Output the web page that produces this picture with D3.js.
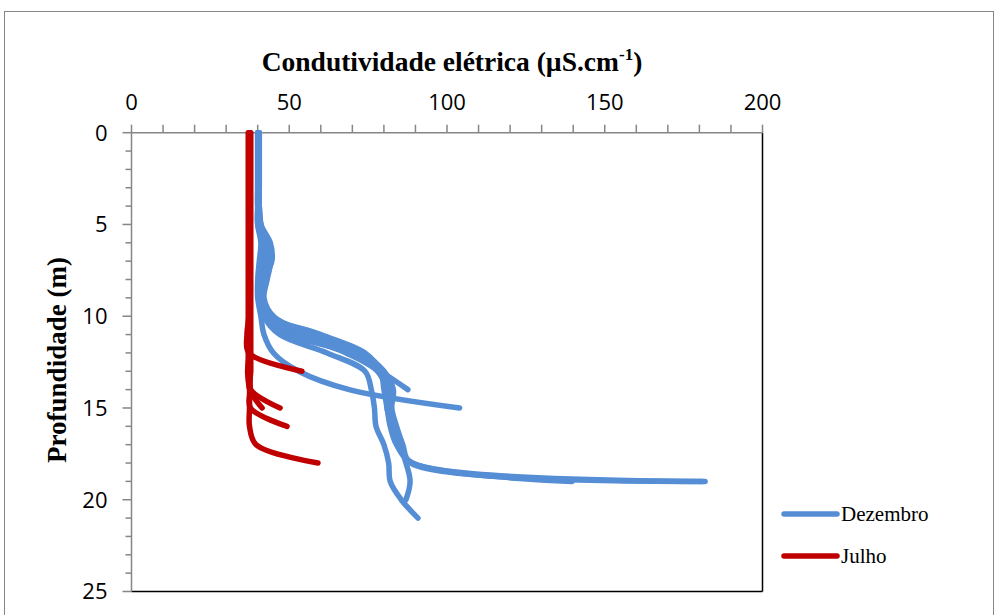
<!DOCTYPE html>
<html>
<head>
<meta charset="utf-8">
<script src="https://cdn.jsdelivr.net/npm/d3@7"></script>
<style>
  html, body { margin: 0; padding: 0; background: #fff; }
  svg { display: block; }
</style>
</head>
<body>
<svg id="chart" width="995" height="615"></svg>
<script>
// ---- Data (conductivity µS/cm at 1 m depth steps, depth starts at 0) ----
const xTicks = [0, 50, 100, 150, 200];
const yTicks = [0, 5, 10, 15, 20, 25];
const seriesNames = ["Dezembro", "Julho"];

// Dezembro profiles
const dez1 = [40, 40, 40, 40, 40, 40.5, 43, 44, 42, 41, 43, 50, 70, 79, 87.6];
const dez2 = [40, 40, 40, 40, 40, 40, 41, 40.5, 40, 40, 41, 42, 45, 53, 69, 104];
const dez3 = [40.5, 40.5, 40.5, 40.5, 40.5, 41, 44, 44.5, 42, 41.5, 44, 60, 74, 79, 80, 81, 82, 84, 89, 139.6];
const dez4 = [40, 40, 40, 40, 40, 40, 41.5, 42, 41, 40.5, 42.5, 52, 68, 78, 81, 82, 83, 84.5, 89, 181.8];
const dez5 = [40, 40, 40, 40, 40, 40.5, 42.5, 43.5, 41.5, 41, 42, 47, 62, 74, 76, 77, 77.5, 80, 81.5, 82, 85.5, 90.8];
const dez6 = [40.5, 40.5, 40.5, 40.5, 40.5, 41, 43.5, 43, 42, 41, 43, 53, 70, 80, 82, 81, 83, 85, 87, 88.3, 87];
const dez7 = [40.5, 40.5, 40.5, 40.5, 40.5, 41, 42, 44, 43, 42, 45, 57, 73, 80, 83, 82.5, 84, 86, 88.5, 181];

// Julho profiles
const jul1 = [37.2, 37.2, 37.2, 37.2, 37.2, 37.2, 37.2, 37.2, 37.2, 37.2, 37.2, 36.6, 37.2, 54];
const jul2 = [37.8, 37.8, 37.8, 37.8, 37.8, 37.8, 37.8, 37.8, 37.8, 37.8, 37.8, 37.8, 37.8, 37.8, 37.8, 47.1];
const jul3 = [37.0, 37.0, 37.0, 37.0, 37.0, 37.0, 37.0, 37.0, 37.0, 37.0, 37.0, 37.0, 37.0, 37.0, 37.5, 41.4];
const jul4 = [37.6, 37.6, 37.6, 37.6, 37.6, 37.6, 37.6, 37.6, 37.6, 37.6, 37.6, 37.6, 37.6, 37.6, 37.6, 37.7, 49.3];
const jul5 = [37.4, 37.4, 37.4, 37.4, 37.4, 37.4, 37.4, 37.4, 37.4, 37.4, 37.4, 37.4, 37.4, 36.8, 37.4, 37.4, 37.4, 39.5, 59.1];

const dezembro = [dez1, dez2, dez3, dez4, dez5, dez6, dez7];
const julho = [jul1, jul2, jul3, jul4, jul5];

// ---- Layout ----
const colors = { Dezembro: "#558ED5", Julho: "#C00000" };
const plot = { left: 131.5, top: 132.7, right: 762.5, bottom: 591.5 };

const svg = d3.select("#chart");

// outer chart frame
svg.append("rect")
  .attr("x", 4.5).attr("y", 11.5)
  .attr("width", 989).attr("height", 700)
  .attr("fill", "#fff").attr("stroke", "#868686").attr("stroke-width", 1);

const x = d3.scaleLinear().domain([0, 200]).range([plot.left, plot.right]);
const y = d3.scaleLinear().domain([0, 25]).range([plot.top, plot.bottom]);

// plot area border (right + bottom black)
svg.append("line")
  .attr("x1", plot.right).attr("x2", plot.right)
  .attr("y1", plot.top).attr("y2", plot.bottom)
  .attr("stroke", "#000").attr("stroke-width", 1.5);
svg.append("line")
  .attr("x1", plot.left).attr("x2", plot.right)
  .attr("y1", plot.bottom).attr("y2", plot.bottom)
  .attr("stroke", "#000").attr("stroke-width", 1.5);

// axes
const axisColor = "#868686";
const gx = svg.append("g").attr("transform", `translate(0,${plot.top})`);
gx.selectAll("line.minor").data(d3.range(0, 201, 10)).join("line")
  .attr("x1", d => x(d)).attr("x2", d => x(d))
  .attr("y1", 0).attr("y2", -8)
  .attr("stroke", axisColor).attr("stroke-width", 1.5);
gx.append("line").attr("x1", plot.left).attr("x2", plot.right)
  .attr("y1", 0).attr("y2", 0).attr("stroke", axisColor).attr("stroke-width", 1.5);
gx.selectAll("text").data(xTicks).join("text")
  .attr("x", d => x(d)).attr("y", -23)
  .attr("text-anchor", "middle")
  .attr("font-family", "'Open Sans', 'Liberation Sans', sans-serif")
  .attr("font-size", 22).attr("fill", "#000")
  .text(d => d);

const gy = svg.append("g").attr("transform", `translate(${plot.left},0)`);
gy.selectAll("line.minor").data(d3.range(0, 26, 1)).join("line")
  .attr("x1", d => (d % 5 === 0 ? -9 : -6)).attr("x2", 0)
  .attr("y1", d => y(d)).attr("y2", d => y(d))
  .attr("stroke", axisColor).attr("stroke-width", 1.5);
gy.append("line").attr("x1", 0).attr("x2", 0)
  .attr("y1", plot.top).attr("y2", plot.bottom).attr("stroke", axisColor).attr("stroke-width", 1.5);
gy.selectAll("text").data(yTicks).join("text")
  .attr("x", -24).attr("y", d => y(d)).attr("dy", "0.36em")
  .attr("text-anchor", "end")
  .attr("font-family", "'Open Sans', 'Liberation Sans', sans-serif")
  .attr("font-size", 22).attr("fill", "#000")
  .text(d => d);

// titles
const xt = svg.append("text")
  .attr("x", 452).attr("y", 71)
  .attr("text-anchor", "middle")
  .attr("font-family", "'Liberation Serif', 'Times New Roman', serif")
  .attr("font-weight", "bold").attr("font-size", 27.5).attr("fill", "#000");
xt.append("tspan").text("Condutividade elétrica (µS.cm");
xt.append("tspan").attr("font-size", 17).attr("dy", -11).text("-1");
xt.append("tspan").attr("dy", 11).text(")");

svg.append("text")
  .attr("transform", `translate(66,360) rotate(-90)`)
  .attr("text-anchor", "middle")
  .attr("font-family", "'Liberation Serif', 'Times New Roman', serif")
  .attr("font-weight", "bold").attr("font-size", 27).attr("fill", "#000")
  .text("Profundidade (m)");

// lines
const line = d3.line()
  .x(d => x(d[0]))
  .y(d => y(d[1]))
  .curve(d3.curveCatmullRom.alpha(0.5));

const toPts = arr => arr.map((v, i) => [v, i]);

const gLines = svg.append("g");
gLines.selectAll("path.dez").data(dezembro).join("path")
  .attr("class", "dez")
  .attr("d", d => line(toPts(d)))
  .attr("fill", "none").attr("stroke", colors.Dezembro)
  .attr("stroke-width", 5.5).attr("stroke-linecap", "round").attr("stroke-linejoin", "round");
gLines.selectAll("path.jul").data(julho).join("path")
  .attr("class", "jul")
  .attr("d", d => line(toPts(d)))
  .attr("fill", "none").attr("stroke", colors.Julho)
  .attr("stroke-width", 5.5).attr("stroke-linecap", "round").attr("stroke-linejoin", "round");

// legend
const legend = svg.append("g");
seriesNames.forEach((name, i) => {
  const ly = 514 + i * 42;
  legend.append("line")
    .attr("x1", 784).attr("x2", 837).attr("y1", ly).attr("y2", ly)
    .attr("stroke", colors[name]).attr("stroke-width", 5.5).attr("stroke-linecap", "round");
  legend.append("text")
    .attr("x", 841).attr("y", ly).attr("dy", "0.35em")
    .attr("font-family", "'Liberation Serif', 'Times New Roman', serif")
    .attr("font-size", 21).attr("fill", "#000")
    .text(name);
});
</script>
</body>
</html>
